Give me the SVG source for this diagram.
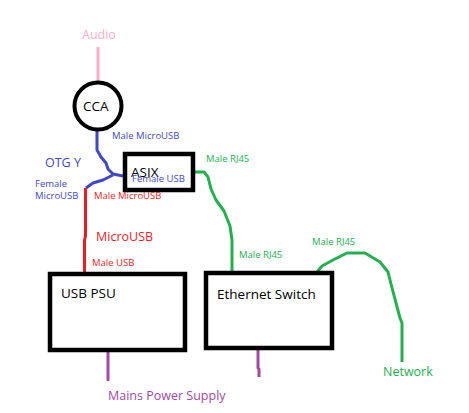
<svg xmlns="http://www.w3.org/2000/svg" width="469" height="413" viewBox="0 0 469 413">
<style>
text{font-family:"Segoe UI","Open Sans","Noto Sans","DejaVu Sans",sans-serif}
.box{fill:#fff;stroke:#000;stroke-width:4.5}
.w{fill:none;stroke-width:3;stroke-linejoin:round;stroke-linecap:butt}
.pink{stroke:#FFAEC9}.blue{stroke:#3F48CC}.red{stroke:#ED1C24}.green{stroke:#22B14C}.purple{stroke:#A349A4}
.s{font-size:9.5px}.m{font-size:12.5px}.b{font-size:13.5px;fill:#000}
.tb{fill:#3F48CC}.tr{fill:#ED1C24}.tg{fill:#22B14C}.tp{fill:#A349A4}.tk{fill:#FFAEC9}
</style>
<rect width="469" height="413" fill="#fff"/>
<g id="connectors">
<path class="w pink" d="M98 47 V82"/>
<path class="w blue" d="M97 130 V150 L101 157 L106 163 L108 169 L113 174 L123 176"/>
<path class="w blue" d="M113 175 L103 180 L93 183 L86 188"/>
<path class="w red" d="M85.5 188 V236 L84.5 240 V272"/>
<path class="w green" d="M195 172 H204 L208 177 L211 189 L216 200 L224 211 L230 226 L232 240 V272"/>
<path class="w green" d="M317 272 L322 266 L333 260 L347 253 H365 L380 262 L388 272 L391 284 L400 318 L402 323 V362"/>
<path class="w purple" d="M108 352 V381"/>
<path class="w purple" d="M258 350 V368 L259 369 V377"/>
</g>
<g id="audio"><text class="m tk" x="82" y="39">Audio</text></g>
<g id="cca">
<circle cx="98" cy="106" r="23.5" fill="#fff" stroke="#000" stroke-width="4"/>
<text class="b" x="83" y="111">CCA</text>
</g>
<g id="asix">
<rect class="box" x="125" y="154" width="68" height="36"/>
<text class="b" x="131" y="177">ASIX</text>
</g>
<g id="usb-psu">
<rect class="box" x="50" y="274" width="135" height="76"/>
<text class="b" x="61" y="298">USB PSU</text>
</g>
<g id="ethernet-switch">
<rect class="box" x="206" y="273" width="126" height="75"/>
<text class="b" x="217" y="299">Ethernet Switch</text>
</g>
<g id="labels">
<text class="s tb" x="112" y="139">Male MicroUSB</text>
<text class="m tb" x="45" y="167">OTG Y</text>
<text class="s tb" x="35" y="187">Female</text>
<text class="s tb" x="35" y="199">MicroUSB</text>
<text class="s tb" x="132" y="182">Female USB</text>
<text class="s tr" x="94" y="199">Male MicroUSB</text>
<text class="m tr" x="96" y="241">MicroUSB</text>
<text class="s tr" x="92" y="266">Male USB</text>
<text class="s tg" x="206" y="162">Male RJ45</text>
<text class="s tg" x="239" y="258">Male RJ45</text>
<text class="s tg" x="312" y="245">Male RJ45</text>
<text class="m tg" x="383" y="376">Network</text>
<text class="m tp" x="108" y="400">Mains Power Supply</text>
</g>
</svg>
